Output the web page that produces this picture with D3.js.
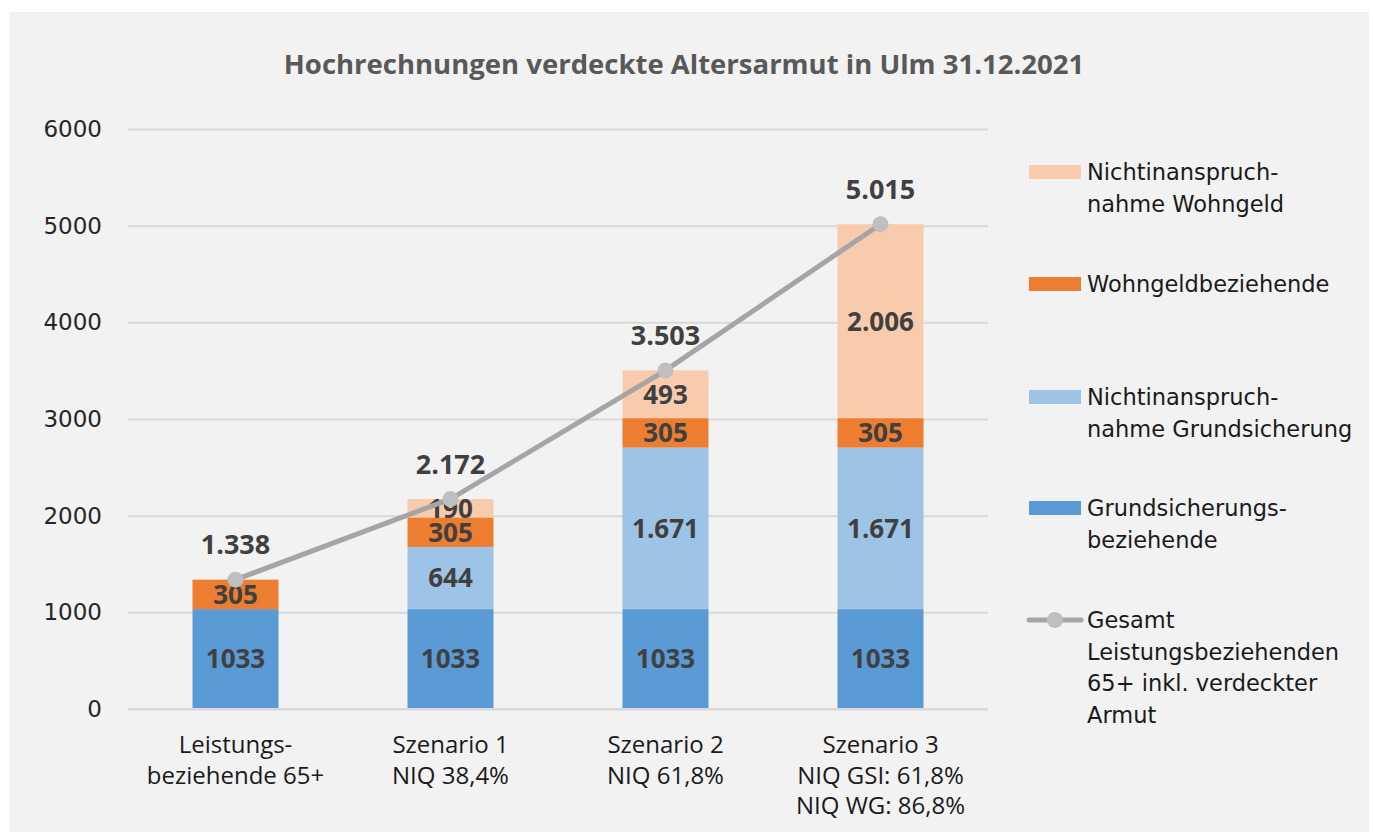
<!DOCTYPE html>
<html>
<head>
<meta charset="utf-8">
<script src="https://cdn.jsdelivr.net/npm/d3@7"></script>
<style>
  body { margin: 0; background: #fff; }
  svg { display: block; }
</style>
</head>
<body>
<svg id="chart" width="1373" height="832"></svg>
<script>
/* global d3 */

// ---- data ----
const categories = [
  ['Leistungs-', 'beziehende 65+'],
  ['Szenario 1', 'NIQ 38,4%'],
  ['Szenario 2', 'NIQ 61,8%'],
  ['Szenario 3', 'NIQ GSI: 61,8%', 'NIQ WG: 86,8%']
]
const grundsicherung = [1033, 1033, 1033, 1033]
const nichtGrundsicherung = [0, 644, 1671, 1671]
const wohngeld = [305, 305, 305, 305]
const nichtWohngeld = [0, 190, 493, 2006]
const gesamt = [1338, 2172, 3503, 5015]
const yTicks = [0, 1000, 2000, 3000, 4000, 5000, 6000]

const series = [
  { key: 'gs', name: ['Grundsicherungs-', 'beziehende'], values: grundsicherung, color: '#5b9bd5' },
  { key: 'ngs', name: ['Nichtinanspruch-', 'nahme Grundsicherung'], values: nichtGrundsicherung, color: '#9dc3e6' },
  { key: 'wg', name: ['Wohngeldbeziehende'], values: wohngeld, color: '#ed7d31' },
  { key: 'nwg', name: ['Nichtinanspruch-', 'nahme Wohngeld'], values: nichtWohngeld, color: '#f8cbad' }
]
const lineName = ['Gesamt', 'Leistungsbeziehenden', '65+ inkl. verdeckter', 'Armut']

const svg = d3.select('#chart')
const margins = { top: 129, right: 385, bottom: 123, left: 128 }
const W = 1373, H = 832

svg.append('rect')
  .attr('x', 9).attr('y', 12)
  .attr('width', 1360).attr('height', H - 12)
  .attr('fill', '#f2f2f2')

svg.append('text')
  .attr('x', 684).attr('y', 74)
  .attr('text-anchor', 'middle')
  .attr('font-family', 'Open Sans')
  .attr('font-weight', 'bold')
  .attr('font-size', 27.5)
  .attr('fill', '#595959')
  .text('Hochrechnungen verdeckte Altersarmut in Ulm 31.12.2021')

const x = d3.scaleBand()
  .domain(d3.range(categories.length))
  .range([margins.left, W - margins.right])
  .paddingInner(0.6).paddingOuter(0.3)

const y = d3.scaleLinear()
  .domain([0, 6000])
  .range([H - margins.bottom, margins.top])

// grid + y axis
const yAxis = d3.axisLeft(y)
  .tickValues(yTicks)
  .tickSize(-(W - margins.right - margins.left))
  .tickPadding(26)
  .tickFormat(d3.format('d'))

const gy = svg.append('g')
  .attr('transform', `translate(${margins.left},0)`)
  .call(yAxis)
gy.select('.domain').remove()
gy.selectAll('.tick line').attr('stroke', '#d9d9d9').attr('stroke-width', 2)
gy.selectAll('.tick text')
  .attr('font-family', 'DejaVu Sans')
  .attr('font-size', 23)
  .attr('fill', '#262626')

// stacked bars
const stackData = categories.map((c, i) => {
  const row = { i }
  series.forEach(s => { row[s.key] = s.values[i] })
  return row
})
const stack = d3.stack().keys(series.map(s => s.key))(stackData)

const layers = svg.append('g').selectAll('g')
  .data(stack)
  .join('g')
  .attr('fill', (d, i) => series[i].color)

layers.selectAll('rect')
  .data(d => d.filter(v => v[1] > v[0]))
  .join('rect')
  .attr('x', d => x(d.data.i))
  .attr('width', x.bandwidth())
  .attr('y', d => y(d[1]))
  .attr('height', d => y(d[0]) - y(d[1]))

// line
const line = d3.line()
  .x((d, i) => x(i) + x.bandwidth() / 2)
  .y(d => y(d))

svg.append('path')
  .datum(gesamt)
  .attr('d', line)
  .attr('fill', 'none')
  .attr('stroke', '#a5a5a5')
  .attr('stroke-width', 5)
  .attr('stroke-linecap', 'round')

svg.append('g').selectAll('circle')
  .data(gesamt)
  .join('circle')
  .attr('cx', (d, i) => x(i) + x.bandwidth() / 2)
  .attr('cy', d => y(d))
  .attr('r', 8)
  .attr('fill', '#bfbfbf')

// segment labels (grundsicherung shown without separator, like the original)
const fmt = (v, key) => v >= 1000 && key !== 'gs' ? d3.format(',')(v).replace(',', '.') : String(v)
layers.selectAll('text')
  .data(d => d.filter(v => v[1] > v[0]).map(v => Object.assign(v, { key: d.key })))
  .join('text')
  .attr('x', d => x(d.data.i) + x.bandwidth() / 2)
  .attr('y', d => (y(d[0]) + y(d[1])) / 2)
  .attr('dy', '0.36em')
  .attr('text-anchor', 'middle')
  .attr('font-family', 'Open Sans')
  .attr('font-weight', 'bold')
  .attr('font-size', 26)
  .attr('fill', '#404040')
  .text(d => fmt(d[1] - d[0], d.key))

// total labels
svg.append('g').selectAll('text')
  .data(gesamt)
  .join('text')
  .attr('x', (d, i) => x(i) + x.bandwidth() / 2)
  .attr('y', d => y(d) - 35)
  .attr('dy', '0.36em')
  .attr('text-anchor', 'middle')
  .attr('font-family', 'Open Sans')
  .attr('font-weight', 'bold')
  .attr('font-size', 27)
  .attr('fill', '#404040')
  .text(d => d3.format(',')(d).replace(',', '.'))

// x axis
const gx = svg.append('g')
  .attr('transform', `translate(0,${y(0)})`)
  .call(d3.axisBottom(x).tickSize(0).tickFormat(''))
gx.select('.domain').attr('stroke', '#d9d9d9').attr('stroke-width', 2)
  .attr('d', `M${margins.left},0H${W - margins.right}`)

gx.selectAll('.tick').each(function (d) {
  const t = d3.select(this).append('text')
    .attr('text-anchor', 'middle')
    .attr('font-family', 'Open Sans')
    .attr('font-size', 24)
    .attr('fill', '#1a1a1a')
  categories[d].forEach((ln, k) => {
    t.append('tspan').attr('x', 0).attr('y', 44 + k * 30.5).text(ln)
  })
})

// legend
const legendItems = [series[3], series[2], series[1], series[0]]
const legendY = [172, 284, 397, 508]
const lg = svg.append('g').attr('font-family', 'DejaVu Sans').attr('font-size', 22.5).attr('fill', '#1a1a1a')
legendItems.forEach((s, k) => {
  lg.append('rect')
    .attr('x', 1029).attr('y', legendY[k] - 7)
    .attr('width', 52).attr('height', 14)
    .attr('fill', s.color)
  const t = lg.append('text')
  s.name.forEach((ln, j) => {
    t.append('tspan').attr('x', 1087).attr('y', legendY[k] + j * 31.5).attr('dy', '0.36em').text(ln)
  })
})
lg.append('line')
  .attr('x1', 1029).attr('x2', 1081).attr('y1', 620).attr('y2', 620)
  .attr('stroke', '#a5a5a5').attr('stroke-width', 5).attr('stroke-linecap', 'round')
lg.append('circle').attr('cx', 1055).attr('cy', 620).attr('r', 8).attr('fill', '#bfbfbf')
const lt = lg.append('text')
lineName.forEach((ln, j) => {
  lt.append('tspan').attr('x', 1087).attr('y', 620 + j * 31.5).attr('dy', '0.36em').text(ln)
})
</script>
</body>
</html>
